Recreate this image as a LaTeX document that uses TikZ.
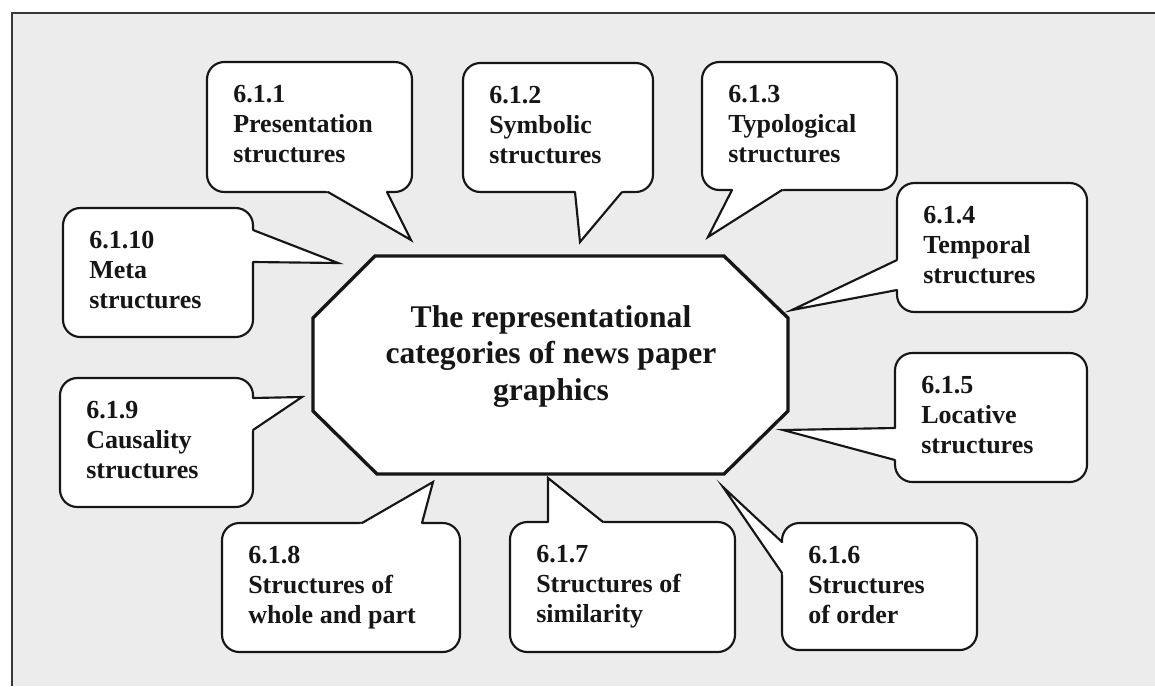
\documentclass[tikz,border=0pt]{standalone}
\usepackage{fontspec}
\setmainfont{Liberation Serif}
\usetikzlibrary{calc}

\definecolor{paper}{RGB}{236,236,236}
\definecolor{ink}{RGB}{22,22,22}

\tikzset{
  bubblebox/.style={draw=ink, fill=white, line width=1.6pt, rounded corners=13pt},
  pointer/.style={draw=ink, line width=1.6pt, line cap=round, line join=miter},
  bubbletext/.style={anchor=base west, inner sep=0pt,
    font=\fontsize{19.5}{22.5}\selectfont\bfseries, text=ink},
  hub/.style={draw=ink, fill=white, line width=2.5pt, line join=miter},
  hubtext/.style={anchor=base, inner sep=0pt,
    font=\fontsize{23.7}{27.4}\selectfont\bfseries, text=ink},
  frame/.style={draw=ink!85, line width=1.5pt},
}

% speech bubble: name, x1, y1, x2, y2, pointer base A, pointer tip, pointer base B, text
\newcommand{\bubble}[9]{%
  \draw[bubblebox] (#2,#3) rectangle (#4,#5);
  \coordinate (#1a) at #6;
  \coordinate (#1t) at #7;
  \coordinate (#1b) at #8;
  \fill[white] ($(#1a)!-3pt!(#1t)$) -- (#1t) -- ($(#1b)!-3pt!(#1t)$) -- cycle;
  \draw[pointer] (#1a) -- (#1t) -- (#1b);
  \node[bubbletext] (#1) at (#2+26,#3+40) {\begin{tabular}[t]{@{}l@{}}#9\end{tabular}};
}

\begin{document}
\begin{tikzpicture}[x=0.75pt, y=-0.75pt]
  \useasboundingbox (0,0) rectangle (1155,686);
  \fill[white] (0,0) rectangle (1155,686);
  \fill[paper] (12,13) rectangle (1155,686);
  \draw[frame] (12,686) -- (12,13) -- (1155,13);

  % surrounding categories
  \bubble{c1}{207}{62}{412}{192}{(328,192)}{(411,240)}{(387,192)}{6.1.1\\Presentation\\structures}
  \bubble{c2}{463}{63}{653}{192}{(575,192)}{(580,242)}{(622,192)}{6.1.2\\Symbolic\\structures}
  \bubble{c3}{702}{62}{897}{190}{(732,190)}{(708,237)}{(782,190)}{6.1.3\\Typological\\structures}
  \bubble{c4}{897}{183}{1087}{312}{(897,260)}{(792,310)}{(897,290)}{6.1.4\\Temporal\\structures}
  \bubble{c5}{895}{353}{1087}{482}{(895,428)}{(783,430)}{(895,460)}{6.1.5\\Locative\\structures}
  \bubble{c6}{782}{523}{977}{650}{(782,542)}{(723,487)}{(782,573)}{6.1.6\\Structures\\of order}
  \bubble{c7}{510}{522}{735}{652}{(548,522)}{(548,478)}{(603,522)}{6.1.7\\Structures of\\similarity}
  \bubble{c8}{222}{523}{460}{652}{(362,523)}{(433,482)}{(422,523)}{6.1.8\\Structures of\\whole and part}
  \bubble{c9}{60}{378}{253}{507}{(253,398)}{(302,397)}{(253,430)}{6.1.9\\Causality\\structures}
  \bubble{c10}{63}{208}{253}{337}{(253,230)}{(338,263)}{(253,262)}{6.1.10\\Meta\\structures}

  % central octagon
  \draw[hub] (375,256) -- (724,256) -- (788,318) -- (788,411) -- (724,474)
    -- (377,474) -- (313,411) -- (313,318) -- cycle;
  \node[hubtext] (hub) at (551,327) {\begin{tabular}[t]{@{}c@{}}The representational\\categories of news paper\\graphics\end{tabular}};
\end{tikzpicture}
\end{document}
